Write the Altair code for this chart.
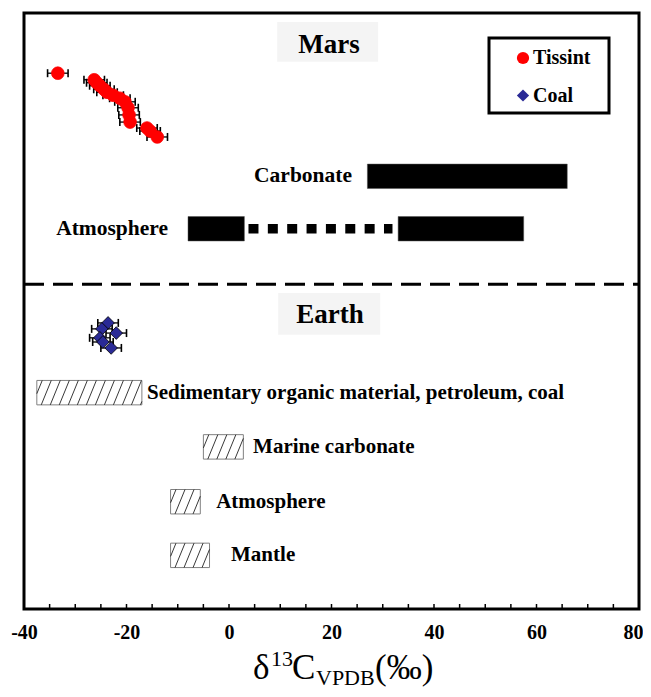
import altair as alt
import pandas as pd

# ---------------- data ----------------
samples = ["Tissint", "Coal"]
sample_colors = ["#ff0000", "#2a2a96"]
sample_shapes = ["circle", "diamond"]

tissint_x = [-33.4, -26.3, -25.8, -25.2, -24.4, -23.8, -22.6, -21.3, -20.3, -19.7, -19.5, -19.3, -16.0, -15.4, -14.0]
tissint_y = [89.9, 88.8, 88.3, 87.8, 87.2, 86.7, 86.2, 85.7, 85.1, 84.1, 82.9, 81.7, 80.7, 80.2, 79.2]
tissint_err = [2.0] * len(tissint_x)

coal_x = [-23.6, -24.8, -22.0, -25.2, -24.6, -23.0]
coal_y = [48.0, 47.0, 46.3, 45.5, 44.8, 43.8]
coal_err = [2.0] * len(coal_x)

mars_names = ["Carbonate", "Atmosphere", "Atmosphere"]
mars_lo = [27.0, -8.0, 33.0]
mars_hi = [66.0, 3.0, 57.5]
mars_row = [72.6, 63.8, 63.8]
mars_label = ["Carbonate", "Atmosphere"]
mars_label_x = [24.0, -11.9]

mars_link_lo = [3.8]
mars_link_hi = [31.9]
mars_link_row = [63.8]

earth_names = ["Sedimentary organic material, petroleum, coal", "Marine carbonate", "Atmosphere", "Mantle"]
earth_lo = [-37.5, -5.0, -11.4, -11.4]
earth_hi = [-17.0, 2.8, -5.6, -3.8]
earth_row = [36.3, 27.2, 18.0, 9.0]
earth_label_x = [-16.0, 4.7, -2.5, 0.4]

panel_names = ["Mars", "Earth"]
panel_x = [19.5, 19.7]
panel_y = [94.6, 49.3]
panel_box_x0 = [9.4, 9.6]
panel_box_x1 = [29.1, 29.5]
panel_box_y0 = [91.8, 46.0]
panel_box_y1 = [98.5, 53.0]

separator_y = [54.5]
tick_values = list(range(-40, 81, 5))
label_values = [-40, -20, 0, 20, 40, 60, 80]

# ---------------- styling constants ----------------
FONT = "Liberation Serif"
W, H = 615, 596
BAR_HALF = 2.05
HATCH_DX = 1.95      # horizontal run of one hatch stroke (data units)
HATCH_STEP = 1.76    # spacing between strokes (data units)

xscale = alt.Scale(domain=[-40, 80], nice=False, zero=False)
yscale = alt.Scale(domain=[0, 100], nice=False, zero=False)
xaxis = alt.Axis(values=label_values, labelExpr="'' + datum.value", ticks=False, domain=False,
                 grid=False, labelFont=FONT, labelFontWeight="bold", labelFontSize=20,
                 labelColor="black", labelPadding=13, title=None, labelFlush=False,
                 labelAlign={"condition": {"test": "datum.value == 80", "value": "right"},
                             "value": "center"},
                 labelOffset={"condition": {"test": "datum.value == 80", "value": 4},
                              "value": 0})


def X(field):
    return alt.X(field, type="quantitative", scale=xscale, axis=xaxis)


def Y(field):
    return alt.Y(field, type="quantitative", scale=yscale, axis=None)


# ---------------- tables ----------------
pts = pd.DataFrame({
    "sample": ["Tissint"] * len(tissint_x) + ["Coal"] * len(coal_x),
    "x": tissint_x + coal_x,
    "y": tissint_y + coal_y,
    "err": tissint_err + coal_err,
})
pts["lo"] = pts["x"] - pts["err"]
pts["hi"] = pts["x"] + pts["err"]

mars = pd.DataFrame({"name": mars_names, "lo": mars_lo, "hi": mars_hi, "row": mars_row})
mars["y0"] = mars["row"] - BAR_HALF
mars["y1"] = mars["row"] + BAR_HALF
mars_lab = pd.DataFrame({"label": mars_label, "x": mars_label_x, "row": mars_row[:2]})
link = pd.DataFrame({"lo": mars_link_lo, "hi": mars_link_hi, "row": mars_link_row})

earth = pd.DataFrame({"name": earth_names, "lo": earth_lo, "hi": earth_hi, "row": earth_row,
                      "lx": earth_label_x})
earth["y0"] = earth["row"] - BAR_HALF
earth["y1"] = earth["row"] + BAR_HALF

# hatch strokes derived from the bar extents
hatch = []
for lo, hi, y0, y1 in zip(earth["lo"], earth["hi"], earth["y0"], earth["y1"]):
    s = lo - HATCH_DX + HATCH_STEP * 0.6
    while s < hi:
        bx, by = s, y0
        tx, ty = s + HATCH_DX, y1
        if bx < lo:
            t = (lo - s) / HATCH_DX
            bx, by = lo, y0 + t * (y1 - y0)
        if tx > hi:
            t = (hi - s) / HATCH_DX
            tx, ty = hi, y0 + t * (y1 - y0)
        if tx > bx:
            hatch.append({"x": bx, "y": by, "x2": tx, "y2": ty})
        s += HATCH_STEP
hatch = pd.DataFrame(hatch)

panels = pd.DataFrame({"name": panel_names, "x": panel_x, "y": panel_y,
                       "bx0": panel_box_x0, "bx1": panel_box_x1,
                       "by0": panel_box_y0, "by1": panel_box_y1})
sep = pd.DataFrame({"y": separator_y})
ticks = pd.DataFrame({"t": tick_values})
one = pd.DataFrame({"k": [0]})

# ---------------- layers ----------------
panel_box = alt.Chart(panels).mark_rect(fill="#f4f4f4").encode(
    x=X("bx0"), x2="bx1", y=Y("by0"), y2="by1")
panel_text = alt.Chart(panels).mark_text(font=FONT, fontWeight="bold", fontSize=27,
                                         color="black", baseline="middle").encode(
    x=X("x"), y=Y("y"), text="name:N")

mars_bars = alt.Chart(mars).mark_rect(fill="black", stroke="#555", strokeWidth=0.5).encode(
    x=X("lo"), x2="hi", y=Y("y0"), y2="y1")
mars_link = alt.Chart(link).mark_rule(color="black", strokeWidth=9.5, strokeDash=[10, 9.36],
                                      strokeCap="butt").encode(
    x=X("lo"), x2="hi", y=Y("row"))
mars_text = alt.Chart(mars_lab).mark_text(font=FONT, fontWeight="bold", fontSize=21.5,
                                          color="black", align="right", baseline="middle").encode(
    x=X("x"), y=Y("row"), text="label:N")

separator = alt.Chart(sep).mark_rule(color="black", strokeWidth=3, strokeDash=[20, 9],
                                     strokeCap="butt").encode(
    x=alt.value(0), x2=alt.value(W), y=Y("y"))

earth_bars = alt.Chart(earth).mark_rect(fill="white", stroke="#808080", strokeWidth=1).encode(
    x=X("lo"), x2="hi", y=Y("y0"), y2="y1")
hatch_lines = alt.Chart(hatch).mark_rule(color="#222", strokeWidth=0.9).encode(
    x=X("x"), x2="x2", y=Y("y"), y2="y2")
earth_text = alt.Chart(earth).mark_text(font=FONT, fontWeight="bold", fontSize=21,
                                        color="black", align="left", baseline="middle").encode(
    x=X("lx"), y=Y("row"), text="name:N")

err_bars = alt.Chart(pts).mark_rule(color="black", strokeWidth=1.3).encode(
    x=X("lo"), x2="hi", y=Y("y"))
cap_shape = "M0,-1L0,1"
caps_lo = alt.Chart(pts).mark_point(shape=cap_shape, size=64, filled=False, color="black",
                                    strokeWidth=1.6, opacity=1).encode(x=X("lo"), y=Y("y"))
caps_hi = alt.Chart(pts).mark_point(shape=cap_shape, size=64, filled=False, color="black",
                                    strokeWidth=1.6, opacity=1).encode(x=X("hi"), y=Y("y"))

legend = alt.Legend(title=None, orient="none", legendX=489, legendY=35, padding=0,
                    labelFont=FONT, labelFontWeight="bold", labelFontSize=20, labelColor="black",
                    symbolSize=150, rowPadding=17.5, labelOffset=0, symbolStrokeWidth=0)
points = alt.Chart(pts).mark_point(filled=True, opacity=1, size=160).encode(
    x=X("x"), y=Y("y"),
    color=alt.Color("sample:N", scale=alt.Scale(domain=samples, range=sample_colors), legend=legend),
    shape=alt.Shape("sample:N", scale=alt.Scale(domain=samples, range=sample_shapes), legend=legend),
    stroke=alt.Stroke("sample:N", scale=alt.Scale(domain=samples, range=["#ff0000", "black"]),
                      legend=None),
    strokeWidth=alt.value(0.8),
)

legend_box = alt.Chart(one).mark_rect(fill="white", stroke="black", strokeWidth=3).encode(
    x=alt.value(465), x2=alt.value(585), y=alt.value(25), y2=alt.value(100))

tick_marks = alt.Chart(ticks).mark_rule(color="black", strokeWidth=1.5).encode(
    x=X("t"), y=alt.value(H), y2=alt.value(H - 5))


# x-axis title pieces: δ^13 C_VPDB (‰)
def piece(txt, px, py, size):
    return alt.Chart(one).mark_text(text=txt, font=FONT, fontSize=size, color="black",
                                    align="left", baseline="alphabetic").encode(
        x=alt.value(px), y=alt.value(py))


title_parts = [
    piece("δ", 229, 666, 35),
    piece("13", 247, 653, 22),
    piece("C", 268, 666, 35),
    piece("VPDB", 292, 672, 22),
    piece("(‰)", 351, 666, 35),
]

chart = alt.layer(
    panel_box, panel_text, mars_bars, mars_link, mars_text, separator,
    earth_bars, hatch_lines, earth_text, legend_box, err_bars, caps_lo, caps_hi, points,
    tick_marks, *title_parts
).properties(
    width=W, height=H, autosize="none", background="white",
    padding={"left": 16, "top": 5, "right": 4, "bottom": 80},
).configure_view(stroke="black", strokeWidth=3)

chart.save("out.html", embed_options={"renderer": "svg", "actions": False})
